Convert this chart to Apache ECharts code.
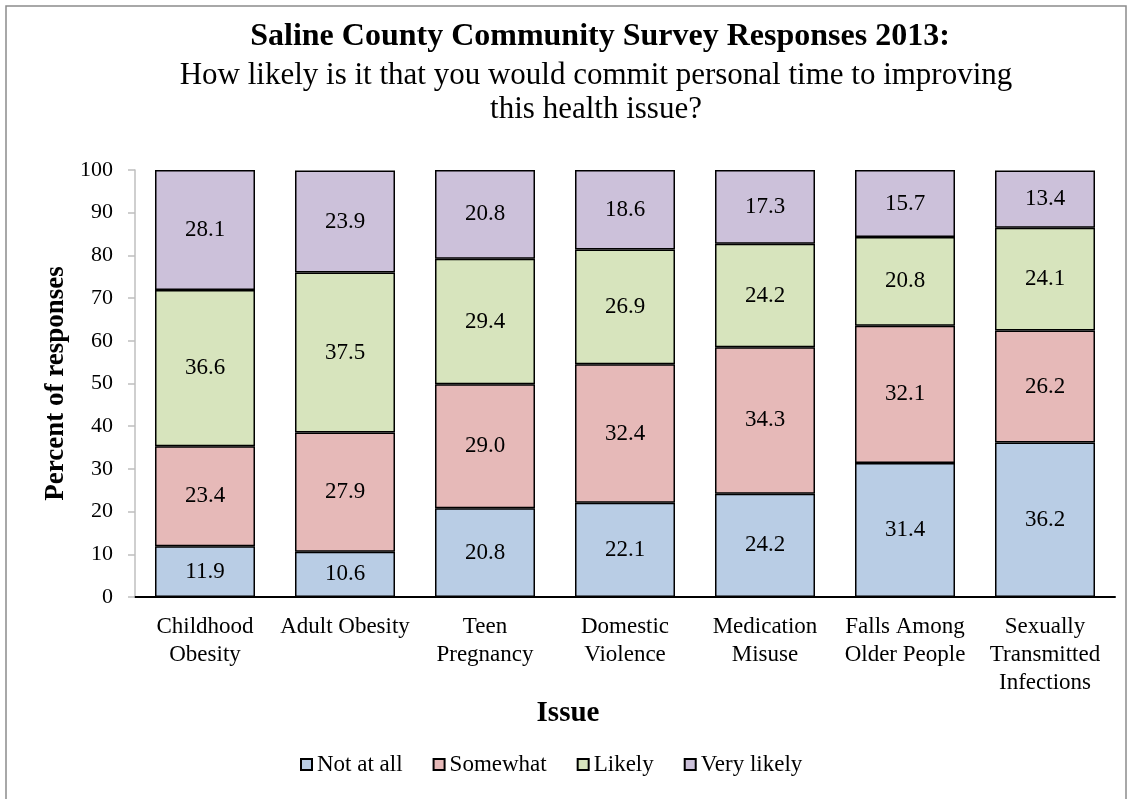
<!DOCTYPE html>
<html>
<head>
<meta charset="utf-8">
<script src="https://cdn.jsdelivr.net/npm/echarts@6/dist/echarts.min.js"></script>
<style>
  html, body { margin: 0; padding: 0; background: #fff; }
  #chart { width: 1132px; height: 799px; }
</style>
</head>
<body>
<div id="chart"></div>
<script>
// Survey issues and response shares (percent of responses)
const categories = [
  'Childhood\nObesity',
  'Adult Obesity',
  'Teen\nPregnancy',
  'Domestic\nViolence',
  'Medication\nMisuse',
  'Falls Among\nOlder People',
  'Sexually\nTransmitted\nInfections'
];
const notAtAll   = [11.9, 10.6, 20.8, 22.1, 24.2, 31.4, 36.2];
const somewhat   = [23.4, 27.9, 29.0, 32.4, 34.3, 32.1, 26.2];
const likely     = [36.6, 37.5, 29.4, 26.9, 24.2, 20.8, 24.1];
const veryLikely = [28.1, 23.9, 20.8, 18.6, 17.3, 15.7, 13.4];
const seriesNames = ['Not at all', 'Somewhat', 'Likely', 'Very likely'];
const yTicks = [0, 10, 20, 30, 40, 50, 60, 70, 80, 90, 100];

const FONT = '"Liberation Serif", "Times New Roman", serif';
const colors = ['#B9CDE5', '#E6B9B8', '#D7E4BD', '#CCC1DA'];

const chart = echarts.init(document.getElementById('chart'), null, { renderer: 'canvas' });

function makeSeries(name, data, color) {
  return {
    name: name,
    type: 'bar',
    stack: 'total',
    barWidth: 100,
    data: data,
    itemStyle: { color: color, borderColor: '#000', borderWidth: 1.5 },
    label: {
      show: true,
      position: 'inside',
      formatter: p => p.value.toFixed(1),
      fontFamily: FONT,
      fontSize: 23,
      color: '#000'
    },
    emphasis: { disabled: true }
  };
}

chart.setOption({
  animation: false,
  backgroundColor: '#fff',
  textStyle: { fontFamily: FONT, color: '#000' },
  title: [{
    text: 'Saline County Community Survey Responses 2013:',
    left: 600,
    textAlign: 'center',
    top: 21,
    padding: 0,
    textStyle: { fontFamily: FONT, fontSize: 32, fontWeight: 'bold', color: '#000' }
  }, {
    text: 'How likely is it that you would commit personal time to improving\nthis health issue?',
    left: 596,
    textAlign: 'center',
    top: 59,
    padding: 0,
    textStyle: { fontFamily: FONT, fontSize: 31, fontWeight: 'normal', color: '#000', lineHeight: 34 }
  }],
  legend: {
    data: seriesNames,
    left: 300,
    top: 753,
    itemWidth: 11,
    itemHeight: 11,
    itemGap: 30,
    icon: 'rect',
    padding: 0,
    textStyle: { fontFamily: FONT, fontSize: 23, color: '#000' }
  },
  grid: { left: 135, right: 17, top: 170, bottom: 202, containLabel: false },
  xAxis: {
    type: 'category',
    data: categories,
    axisLine: { lineStyle: { color: '#000', width: 2 } },
    axisTick: { show: false },
    axisLabel: {
      interval: 0,
      margin: 16,
      fontFamily: FONT,
      fontSize: 23,
      lineHeight: 28,
      color: '#000'
    }
  },
  yAxis: {
    type: 'value',
    min: 0,
    max: 100,
    interval: 10,
    name: 'Percent of responses',
    nameLocation: 'middle',
    nameGap: 65,
    nameTextStyle: { fontFamily: FONT, fontSize: 27, fontWeight: 'bold', color: '#000' },
    axisLine: { show: true, lineStyle: { color: '#BFBFBF', width: 1.5 } },
    axisTick: { show: true, length: 7, lineStyle: { color: '#BFBFBF', width: 1.5 } },
    splitLine: { show: false },
    axisLabel: {
      margin: 22,
      fontFamily: FONT,
      fontSize: 22,
      color: '#000',
      formatter: v => yTicks.includes(v) ? String(v) : ''
    }
  },
  graphic: [{
    type: 'rect',
    shape: { x: 6, y: 6, width: 1120, height: 820 },
    style: { fill: 'none', stroke: '#8C8C8C', lineWidth: 1.5 },
    silent: true,
    z: -1
  }, {
    // x-axis title
    type: 'text',
    x: 568,
    y: 714,
    style: {
      text: 'Issue',
      fontFamily: FONT,
      fontSize: 29,
      fontWeight: 'bold',
      fill: '#000',
      textAlign: 'center',
      textVerticalAlign: 'middle'
    },
    silent: true
  }],
  series: [
    makeSeries(seriesNames[0], notAtAll, colors[0]),
    makeSeries(seriesNames[1], somewhat, colors[1]),
    makeSeries(seriesNames[2], likely, colors[2]),
    makeSeries(seriesNames[3], veryLikely, colors[3])
  ]
});
</script>
</body>
</html>
